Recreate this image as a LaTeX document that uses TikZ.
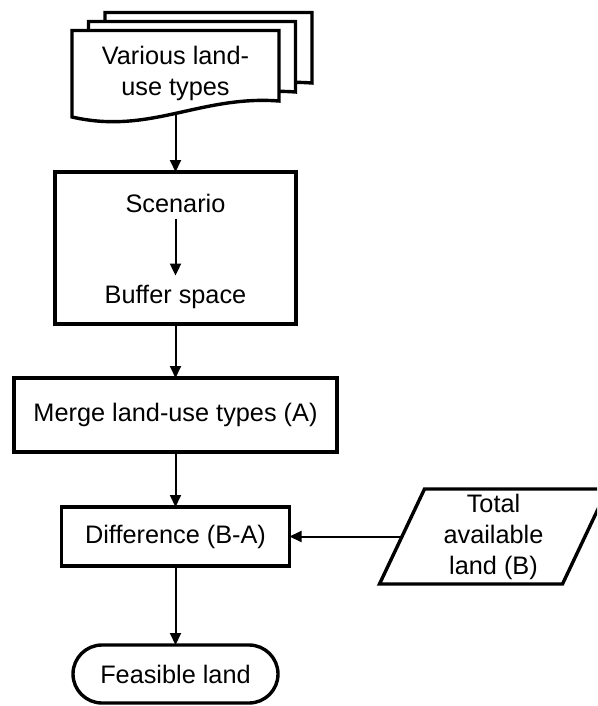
\documentclass[tikz,border=0pt]{standalone}
\usepackage{fontspec}
\setmainfont{Liberation Sans}
\usetikzlibrary{positioning, arrows.meta, backgrounds}

\begin{document}
\begin{tikzpicture}[node distance=55pt, font=\fontsize{25.3}{31}\selectfont, >={Triangle[length=12pt,width=11pt]}, line width=2pt]
	\tikzset{
		procbox/.style={draw, line width=3.4pt, inner sep=0pt, outer sep=0pt, align=center},
		txt/.style={inner sep=0pt, outer sep=0pt, align=center},
		docline/.style={line width=3.4pt, fill=white},
	}
	\useasboundingbox (0,0) rectangle (597pt,-706pt);
	\clip (0,0) rectangle (597pt,-706pt);
	\node[txt, minimum width=207pt, minimum height=86.5pt] (docs) at (175.5pt,-73.75pt) {Various land-\\use types};
	\node[procbox, minimum width=241pt, minimum height=152pt, below=55pt of docs] (scen) {};
	\node[txt, below=22pt of scen.north] (scentxt) {Scenario};
	\node[txt, below=73pt of scentxt] (buffer) {Buffer space};
	\node[procbox, minimum width=323pt, minimum height=74pt, below=54pt of scen] (merge) {Merge land-use types (A)};
	\node[procbox, minimum width=228pt, minimum height=59pt, below=55pt of merge] (diff) {Difference (B-A)};
	\node[txt, minimum width=183pt, minimum height=95pt, right=112.5pt of diff] (total) {Total\\available\\land (B)};
	\node[procbox, rounded corners=29pt, minimum width=205pt, minimum height=58pt, below=79pt of diff] (feas) {Feasible land};
	% stacked documents behind the first node
	\begin{scope}[on background layer]
		\foreach \dx/\dy in {33pt/18pt, 16.5pt/9pt, 0pt/0pt}
			\draw[docline] ([shift={(\dx,\dy)}]docs.south west) -- ([shift={(\dx,\dy)}]docs.north west) -- ([shift={(\dx,\dy)}]docs.north east) -- ([shift={(\dx,\dy+16pt)}]docs.south east) .. controls +(-79pt,6pt) and +(78pt,-18pt) .. ([shift={(\dx,\dy)}]docs.south west) -- cycle;
	\end{scope}
	\draw[line width=3.4pt] ([xshift=-22.5pt]total.south west) -- ([xshift=22.5pt]total.north west) -- ([xshift=22.5pt]total.north east) -- ([xshift=-22.5pt]total.south east) -- cycle;
	\draw[->, shorten <=-4pt] (docs) -- (scen);
	\draw[->, shorten <=6pt, shorten >=10pt] (scentxt) -- (buffer);
	\draw[->] (scen) -- (merge);
	\draw[->] (merge) -- (diff);
	\draw[->] (total) -- (diff);
	\draw[->] (diff) -- (feas);
\end{tikzpicture}
\end{document}
